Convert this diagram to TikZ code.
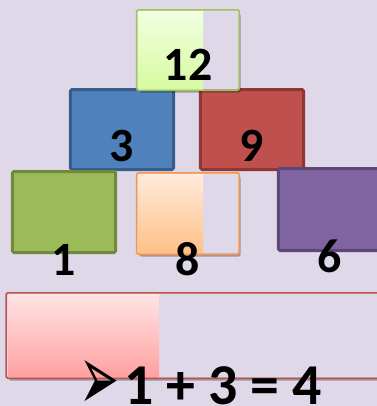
\documentclass[tikz,border=0pt]{standalone}
\usepackage{fontspec}
\setmainfont{Carlito}
\newfontfamily\dejavu{DejaVu Sans}
\usetikzlibrary{shadows}
\definecolor{bg}{RGB}{223,216,232}
\definecolor{gfill}{RGB}{155,187,89}
\definecolor{gline}{RGB}{113,137,63}
\definecolor{bfill}{RGB}{79,129,189}
\definecolor{bline}{RGB}{56,93,138}
\definecolor{rfill}{RGB}{192,80,77}
\definecolor{rline}{RGB}{140,56,54}
\definecolor{pfill}{RGB}{128,100,162}
\definecolor{pline}{RGB}{92,71,118}
\definecolor{oline}{RGB}{247,150,70}
\definecolor{ltgline}{RGB}{160,196,90}
\definecolor{ltgtop}{RGB}{242,255,225}
\definecolor{ltgbot}{RGB}{214,250,160}
\definecolor{otop}{RGB}{255,235,220}
\definecolor{obot}{RGB}{255,192,135}
\definecolor{ptop}{RGB}{255,228,228}
\definecolor{pbot}{RGB}{255,160,160}
\begin{document}
\begin{tikzpicture}[x=1bp,y=-1bp,
  box/.style={rectangle, inner sep=0, rounded corners=1.5bp},
  thick box/.style={box, line width=3bp},
  thin box/.style={box, line width=1.5bp},
  num/.style={anchor=base, inner sep=0, font=\fontsize{48}{48}\selectfont\bfseries},
  big/.style={anchor=base west, inner sep=0, font=\fontsize{58}{58}\selectfont\bfseries},
  shad/.style={drop shadow={shadow xshift=2bp, shadow yshift=-3bp, opacity=0.3, fill=black}}
]
\fill[bg] (0,0) rectangle (377,406);
\useasboundingbox (0,0) rectangle (377,406);

% middle row
\node[thick box, fill=bfill, draw=bline, minimum width=103bp, minimum height=80bp] (b3) at (122,129.5) {};
\node[thick box, fill=rfill, draw=rline, minimum width=103bp, minimum height=80bp] (b9) at (252,129.5) {};
% bottom row
\node[thick box, fill=gfill, draw=gline, minimum width=103bp, minimum height=81bp] (b1) at (64,212) {};
\node[thin box, fill=bg, shad, minimum width=101bp, minimum height=80bp] (b8) at (188,213.5) {};
\shade[top color=otop, bottom color=obot] (138,174) rectangle (203,253);
\draw[thin box, draw=oline] (b8.north west) rectangle (b8.south east);
\node[thick box, fill=pfill, draw=pline, minimum width=120bp, minimum height=82bp] (b6) at (338.5,209.5) {};
% top
\node[thin box, fill=bg, shad, minimum width=101bp, minimum height=79bp] (b12) at (188,50) {};
\shade[top color=ltgtop, bottom color=ltgbot] (138,11) rectangle (203,89);
\draw[thin box, draw=ltgline] (b12.north west) rectangle (b12.south east);
% bar
\node[thin box, fill=bg, shad, minimum width=390bp, minimum height=84bp] (bar) at (202,335.5) {};
\shade[top color=ptop, bottom color=pbot] (8,294) rectangle (159,377);
\draw[thin box, draw=rfill] (bar.north west) rectangle (bar.south east);

% numbers
\node[num] (t12) at (188,80) {12};
\node[num] (t3) at (122,161) {3};
\node[num] (t9) at (252,161) {9};
\node[num] (t1) at (64,275) {1};
\node[num] (t8) at (188,275) {8};
\node[num] (t6) at (330,272) {6};

\node[anchor=center, inner sep=0] (arr) at (99,385) {\resizebox{40bp}{50bp}{\dejavu ➢}};
\node[big] (eq) at (124,404) {1 + 3 = 4};
\end{tikzpicture}
\end{document}
